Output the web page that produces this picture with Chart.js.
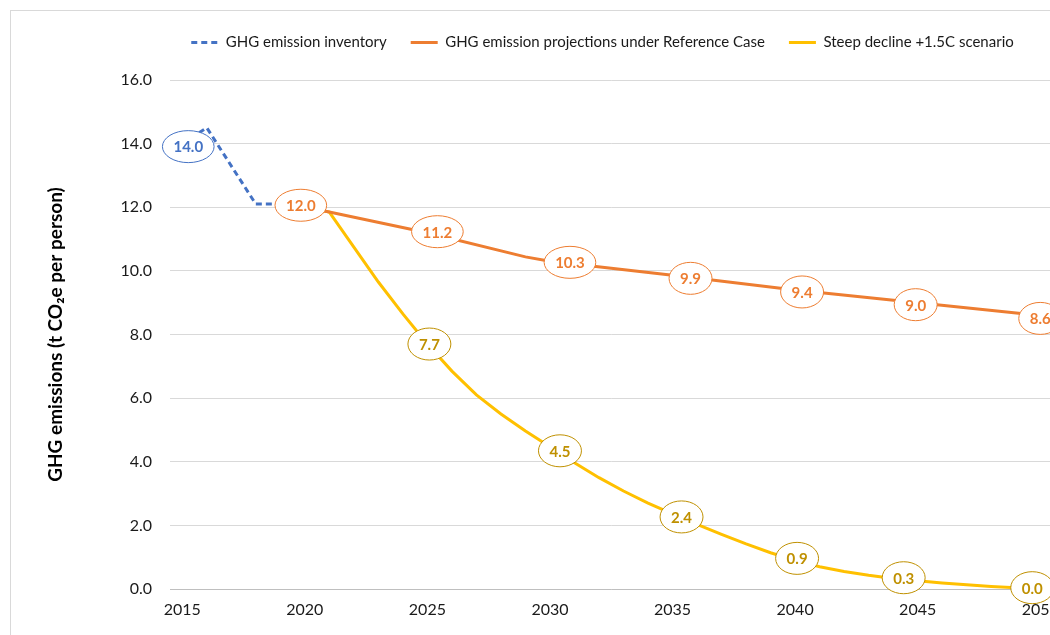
<!DOCTYPE html>
<html lang="en">
<head>
<meta charset="UTF-8">
<title>GHG emissions per person</title>
<script src="https://cdn.jsdelivr.net/npm/chart.js@4"></script>
<style>
    body {
        margin: 0;
        background: #ffffff;
        overflow: hidden;
    }
    .frame {
        position: absolute;
        left: 10px;
        top: 10px;
        width: 1100px;
        height: 700px;
        border-top: 1px solid #d9d9d9;
        border-left: 1px solid #d9d9d9;
    }
    .wrap {
        position: absolute;
        left: 0;
        top: 0;
        width: 1070px;
        height: 635px;
    }
</style>
</head>
<body>
<div class="frame"></div>
<div class="wrap"><canvas id="ghgChart"></canvas></div>

<script>
    // data
    const invYears = [2015, 2016, 2018, 2019];
    const invValues = [14.0, 14.5, 12.1, 12.1];

    const refYears = [2020, 2021, 2025, 2029, 2030, 2035, 2040, 2045, 2050];
    const refValues = [12.0, 11.85, 11.2, 10.44, 10.3, 9.86, 9.4, 9.0, 8.6];

    const steepYears = [2020, 2021, 2022, 2023, 2024, 2025, 2026, 2027, 2028, 2029, 2030,
        2031, 2032, 2033, 2034, 2035, 2036, 2037, 2038, 2039, 2040,
        2041, 2042, 2043, 2044, 2045, 2046, 2047, 2048, 2049, 2050];
    const steepValues = [12.0, 11.85, 10.75, 9.65, 8.65, 7.7, 6.85, 6.1, 5.5, 4.97, 4.47,
        3.97, 3.5, 3.08, 2.7, 2.36, 2.03, 1.72, 1.42, 1.14, 0.9,
        0.7, 0.55, 0.43, 0.33, 0.26, 0.19, 0.13, 0.08, 0.04, 0.01];

    // which points carry a data label
    const invLabelYears = [2015];
    const refLabelYears = [2020, 2025, 2030, 2035, 2040, 2045, 2050];
    const steepLabelYears = [2025, 2030, 2035, 2040, 2045, 2050];

    const xTicks = [2015, 2020, 2025, 2030, 2035, 2040, 2045, 2050];

    function toPoints(years, values) {
        return years.map((y, i) => ({x: y, y: values[i]}));
    }

    // ellipse shaped data labels, drawn above all lines
    const ellipseLabels = {
        id: 'ellipseLabels',
        afterDatasetsDraw(chart) {
            const ctx = chart.ctx;
            ctx.save();
            ctx.font = 'bold 15px Lato, "Open Sans", sans-serif';
            ctx.textAlign = 'center';
            ctx.textBaseline = 'middle';
            chart.data.datasets.forEach((ds, i) => {
                const meta = chart.getDatasetMeta(i);
                meta.data.forEach((pt, j) => {
                    const d = ds.data[j];
                    if (!ds.labelYears.includes(d.x)) return;
                    const text = d.y.toFixed(1);
                    const shift = (ds.labelShift && ds.labelShift[d.x]) || [0, 0];
                    const cx = pt.x + shift[0];
                    const cy = pt.y + shift[1];
                    const rx = ctx.measureText(text).width / 2 + 11;
                    const ry = 16;
                    ctx.beginPath();
                    ctx.ellipse(cx, cy, rx, ry, 0, 0, Math.PI * 2);
                    ctx.fillStyle = '#ffffff';
                    ctx.fill();
                    ctx.lineWidth = 1;
                    ctx.strokeStyle = ds.labelColor;
                    ctx.stroke();
                    ctx.fillStyle = ds.labelColor;
                    ctx.fillText(text, cx, cy + 1);
                });
            });
            ctx.restore();
        }
    };

    // fixed legend height and legend moved right like the original
    const legendTweak = {
        id: 'legendTweak',
        beforeInit(chart) {
            const fit = chart.legend.fit;
            chart.legend.fit = function () {
                fit.call(this);
                this.height = 69;
            };
        },
        afterLayout(chart) {
            chart.legend.left += 70;
            chart.legend.right += 70;
        }
    };

    Chart.defaults.font.family = 'Lato, "Open Sans", sans-serif';
    Chart.defaults.color = '#1a1a1a';

    const ctx = document.getElementById('ghgChart').getContext('2d');
    new Chart(ctx, {
        type: 'line',
        data: {
            datasets: [
                {
                    label: 'GHG emission inventory',
                    data: toPoints(invYears, invValues),
                    borderColor: '#4472C4',
                    backgroundColor: '#4472C4',
                    borderWidth: 3,
                    borderDash: [6, 4],
                    pointRadius: 0,
                    labelYears: invLabelYears,
                    labelColor: '#4472C4',
                    labelShift: {2015: [6, 3]}
                },
                {
                    label: 'GHG emission projections under Reference Case',
                    data: toPoints(refYears, refValues),
                    borderColor: '#ED7D31',
                    backgroundColor: '#ED7D31',
                    borderWidth: 3,
                    pointRadius: 0,
                    labelYears: refLabelYears,
                    labelColor: '#ED7D31',
                    labelShift: {2020: [-4, -2], 2025: [10, -1], 2030: [20, 1], 2035: [18, 3], 2040: [7, 2], 2045: [-2, 2], 2050: [0, 3]}
                },
                {
                    label: 'Steep decline +1.5C scenario',
                    data: toPoints(steepYears, steepValues),
                    borderColor: '#FFC000',
                    backgroundColor: '#FFC000',
                    borderWidth: 3,
                    pointRadius: 0,
                    labelYears: steepLabelYears,
                    labelColor: '#BF9000',
                    labelShift: {2025: [2, 0], 2030: [10, 4], 2035: [9, 3], 2040: [2, -2], 2045: [-14, -3], 2050: [-8, -1]}
                }
            ]
        },
        options: {
            responsive: true,
            maintainAspectRatio: false,
            animation: false,
            layout: {
                padding: {left: 10, top: 11, right: 15, bottom: 0}
            },
            plugins: {
                legend: {
                    position: 'top',
                    labels: {
                        usePointStyle: true,
                        pointStyle: 'line',
                        pointStyleWidth: 27,
                        padding: 24,
                        boxHeight: 15,
                        color: '#1a1a1a',
                        font: {size: 15},
                        generateLabels(chart) {
                            const items = Chart.defaults.plugins.legend.labels.generateLabels(chart);
                            items.forEach(it => {
                                const ds = chart.data.datasets[it.datasetIndex];
                                it.lineDash = ds.borderDash || [];
                                it.lineWidth = 3;
                                it.strokeStyle = ds.borderColor;
                            });
                            return items;
                        }
                    }
                },
                tooltip: {enabled: false}
            },
            scales: {
                x: {
                    type: 'linear',
                    min: 2014.5,
                    max: 2050.5,
                    afterFit(scale) { scale.height = 46; },
                    afterBuildTicks(scale) {
                        scale.ticks = xTicks.map(v => ({value: v}));
                    },
                    ticks: {
                        padding: 11,
                        autoSkip: false,
                        maxRotation: 0,
                        font: {size: 16},
                        color: '#1a1a1a',
                        callback: v => String(v)
                    },
                    grid: {display: false, drawTicks: false},
                    border: {display: true, color: '#bfbfbf', width: 1}
                },
                y: {
                    min: 0,
                    max: 16,
                    afterFit(scale) { scale.width = 160; },
                    ticks: {
                        stepSize: 2,
                        padding: 18,
                        font: {size: 16},
                        color: '#1a1a1a',
                        callback: v => v.toFixed(1)
                    },
                    grid: {color: '#d9d9d9', lineWidth: 1, drawTicks: false},
                    border: {display: false},
                    title: {
                        display: true,
                        text: 'GHG emissions (t CO\u2082e per person)',
                        color: '#000000',
                        font: {size: 19, weight: 'bold'},
                        padding: {top: 34}
                    }
                }
            }
        },
        plugins: [ellipseLabels, legendTweak]
    });
</script>
</body>
</html>
